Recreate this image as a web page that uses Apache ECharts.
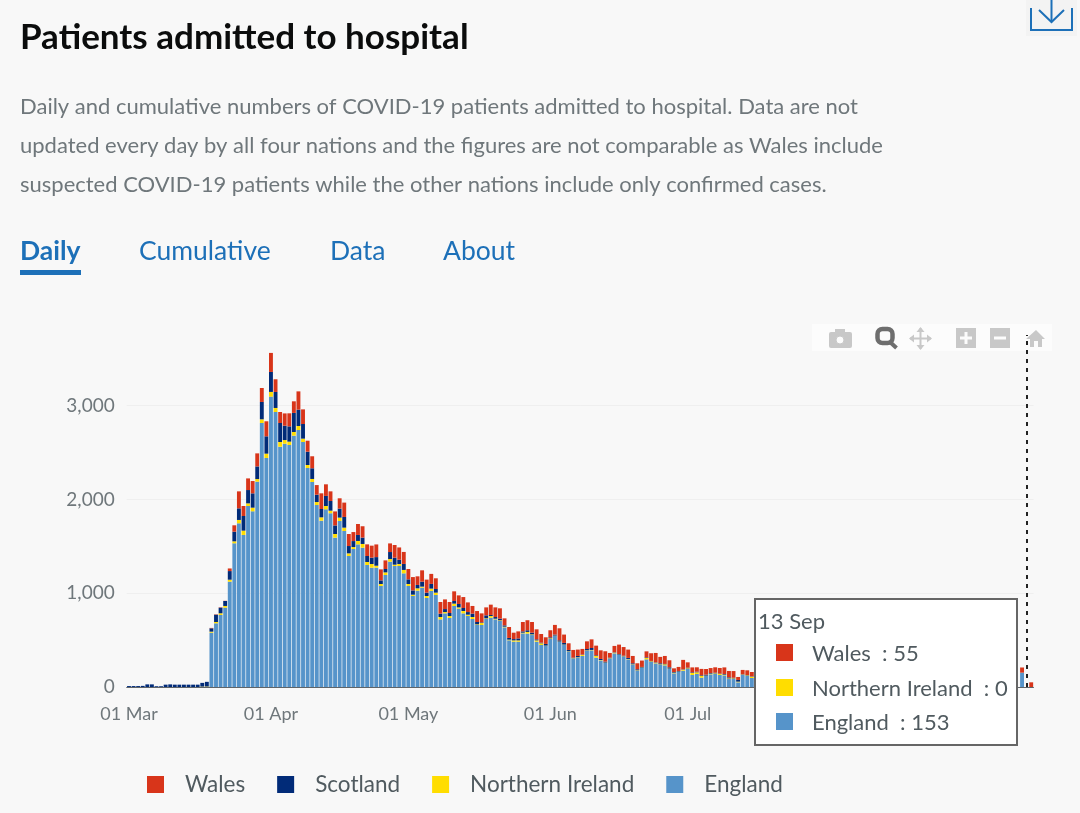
<!DOCTYPE html>
<html>
<head>
<meta charset="utf-8">
<style>html,body{margin:0;padding:0;background:#f8f8f8}#c{position:absolute;left:0;top:0;width:1080px;height:813px}</style>
<script src="https://cdn.jsdelivr.net/npm/echarts@6/dist/echarts.min.js"></script>
</head>
<body>
<div id="c"></div>
<script>
const FONT = 'Lato, "Noto Sans", sans-serif';
const titleText = 'Patients admitted to hospital';
const subtitleLines = [
  'Daily and cumulative numbers of COVID-19 patients admitted to hospital. Data are not',
  'updated every day by all four nations and the figures are not comparable as Wales include',
  'suspected COVID-19 patients while the other nations include only confirmed cases.'
];
const tabLabels = ['Daily', 'Cumulative', 'Data', 'About'];
const seriesNames = ['England', 'Northern Ireland', 'Scotland', 'Wales'];
const legendOrder = ['Wales', 'Scotland', 'Northern Ireland', 'England'];
const tickLabels = ['01 Mar', '01 Apr', '01 May', '01 Jun', '01 Jul'];
const months = [['Mar', 31], ['Apr', 30], ['May', 31], ['Jun', 30], ['Jul', 31], ['Aug', 31], ['Sep', 14]];
const tooltipDate = '13 Sep';
const tooltipNames = ['Wales', 'Northern Ireland', 'England'];
const tooltipValues = [55, 0, 153];

// 1 Mar .. 15 Jul; bars under the tooltip box cannot be read and stay empty (null).
const hidden = new Array(58).fill(null);
const england = [
  0,0,0,0,0,0,0,0,0,0,0,0,0,0,0,0,0,0,
  579,679,768,846,1123,1532,1745,1621,1930,1873,2189,2815,2442,3096,2932,2562,2594,2580,2680,2740,2612,2335,2186,1940,
  1773,1894,1852,1592,1770,1663,1397,1471,1521,1486,1301,1272,1272,1077,1194,1336,1290,1290,1212,
  1077,970,1027,1059,949,1024,981,721,785,736,864,835,785,757,725,661,661,725,739,721,704,636,498,483,483,572,569,554,483,448,437,
  512,544,480,448,377,302,313,331,387,391,313,284,256,302,359,341,323,295,238,174,203,295,267,252,238,231,192,146,160,174,
  192,128,139,100,117,135,139,128,124,85,85,50,128,117,96
].concat(hidden, [153, null, null]);
const northernIreland = [
  0,0,0,0,0,0,0,0,0,0,0,0,0,0,0,0,4,5,
  11,14,18,18,21,21,36,46,28,39,28,39,46,50,43,50,39,36,39,43,36,32,32,32,
  36,36,28,39,36,36,28,21,36,39,32,39,21,21,28,28,14,21,36,
  21,14,25,11,21,25,25,25,14,21,25,14,25,14,21,7,21,7,18,7,7,7,7,14,14,7,18,7,14,18,4,
  7,4,4,4,4,4,4,11,4,4,18,4,4,4,7,4,4,4,4,4,4,14,7,7,4,11,4,7,4,11,
  7,21,18,18,4,7,7,11,7,7,7,7,4,7,14
].concat(hidden, [0, null, null]);
const scotland = [
  10,10,10,12,28,28,8,8,25,28,25,25,25,25,25,25,40,50,
  36,78,60,53,92,103,124,156,142,153,135,185,185,213,171,203,153,163,203,174,156,142,114,78,
  89,107,103,92,96,114,78,64,64,68,64,68,92,39,36,75,75,46,64,
  50,46,36,53,36,50,39,36,32,32,28,36,32,28,36,25,7,32,11,18,18,14,18,14,21,14,18,18,11,7,18,
  11,11,14,18,14,7,14,4,14,21,7,11,11,7,4,7,7,11,11,11,7,7,4,4,11,4,14,7,7,4,
  7,7,7,7,11,7,7,4,7,11,7,18,4,4,4
].concat(hidden, [null, null, null]);
const wales = [
  0,0,0,0,0,0,0,0,0,0,0,0,0,0,0,0,0,0,
  4,4,4,2,28,68,181,107,124,131,139,149,160,203,135,117,131,139,124,195,156,117,128,103,
  167,124,103,149,110,153,128,96,117,121,124,128,135,117,92,92,135,131,128,
  110,142,92,121,139,107,114,124,103,117,103,92,117,103,82,117,96,85,110,103,110,75,117,68,75,100,107,114,107,92,71,
  75,103,128,89,71,82,68,60,82,92,103,92,110,50,68,100,92,89,78,64,68,64,82,100,68,85,75,39,43,100,
  57,53,46,68,60,53,57,60,71,68,71,32,46,50,46
].concat(hidden, [55, null, 50]);

const COLORS = {England:'#5694ca', 'Northern Ireland':'#ffdd00', Scotland:'#012b78', Wales:'#d8351a'};

const categories = [];
months.forEach(([m, n]) => { for (let d = 1; d <= n; d++) categories.push((d < 10 ? '0' : '') + d + ' ' + m); });
const valuesByName = {England: england, 'Northern Ireland': northernIreland, Scotland: scotland, Wales: wales};

function showTick(i) { return tickLabels.indexOf(categories[i]) >= 0; }

const TXT = '#505a5f', BLUE = '#1d70b8', ICON = '#c8c8c8', ICOND = '#6e6e6e';
const tabX = [20, 139, 330, 443];

const chart = echarts.init(document.getElementById('c'), null, {renderer: 'canvas', width: 1080, height: 813});
chart.setOption({
  animation: false,
  textStyle: {fontFamily: FONT},
  title: {
    left: 15, top: 15, text: titleText, itemGap: 32,
    textStyle: {fontFamily: FONT, fontSize: 35, fontWeight: 700, color: '#0b0c0c'},
    subtext: subtitleLines.join('\n'),
    subtextStyle: {fontFamily: FONT, fontSize: 22, lineHeight: 39, color: '#6f777b'}
  },
  grid: {left: 126.7, width: 906.8, top: 335, height: 352},
  legend: {
    data: legendOrder, left: 142, top: 768, icon: 'rect', itemWidth: 17, itemHeight: 17, itemGap: 32,
    selectedMode: false,
    textStyle: {fontFamily: FONT, fontSize: 22.5, color: TXT, padding: [0, 0, 0, 16]}
  },
  tooltip: {
    trigger: 'axis', triggerOn: 'none', alwaysShowContent: true, transitionDuration: 0,
    position: [754, 598], padding: 0, borderWidth: 0, backgroundColor: 'transparent',
    extraCssText: 'box-shadow:none;border-radius:0;',
    axisPointer: {type: 'line', label: {show: false}, lineStyle: {type: [4, 5], color: '#222', width: 2}},
    formatter: function () {
      let h = '<div style="box-sizing:border-box;width:264px;height:148px;background:#fff;border:2px solid #666;font:22px ' + FONT.replace(/"/g, "'") + ';color:#505a5f;position:relative;">';
      h += '<div style="position:absolute;left:2px;top:6px;line-height:30px;">' + tooltipDate + '</div>';
      tooltipNames.forEach((n, i) => {
        const top = 38 + i * 34.5;
        h += '<div style="position:absolute;left:20px;top:' + (top + 6) + 'px;width:17px;height:17px;background:' + COLORS[n] + '"></div>';
        h += '<div style="position:absolute;left:56px;top:' + top + 'px;line-height:30px;white-space:pre;">' + n + '  : ' + tooltipValues[i] + '</div>';
      });
      return h + '</div>';
    }
  },
  xAxis: {
    type: 'category', data: categories, boundaryGap: true,
    axisLine: {lineStyle: {color: '#5f6468', width: 1}},
    axisTick: {alignWithLabel: true, length: 8, lineStyle: {color: '#777', width: 2}, interval: showTick},
    axisLabel: {interval: showTick, fontSize: 18, color: '#6f777b', margin: 18, fontFamily: FONT,
      formatter: v => v},
    splitLine: {show: false}
  },
  yAxis: {
    type: 'value', min: 0, max: 3753, interval: 1000,
    axisLine: {show: false}, axisTick: {show: false},
    axisLabel: {fontSize: 19, color: '#6f777b', margin: 12, showMaxLabel: false, fontFamily: FONT},
    splitLine: {show: true, showMaxLine: false, lineStyle: {color: '#efefef', width: 1}}
  },
  series: seriesNames.map(n => ({
    name: n, type: 'bar', stack: 'total', data: valuesByName[n], barCategoryGap: '15%',
    itemStyle: {color: COLORS[n]}, emphasis: {disabled: true}
  })),
  graphic: [
    // tabs
    ...tabLabels.map((t, i) => ({type: 'text', left: tabX[i], top: 238, style: {
      text: t, fill: BLUE, fontFamily: FONT, fontSize: 26.5, fontWeight: i === 0 ? 700 : 400}})),
    {type: 'rect', shape: {x: 20, y: 270, width: 61, height: 5}, style: {fill: BLUE}},
    // download button
    {type: 'rect', shape: {x: 1026, y: 0, width: 51, height: 36}, style: {fill: '#f3f3f3'}},
    {type: 'polyline', shape: {points: [[1031, 8], [1031, 30], [1072, 30], [1072, 8]]}, style: {stroke: BLUE, lineWidth: 2, fill: null}},
    {type: 'polyline', shape: {points: [[1051.5, 0], [1051.5, 22]]}, style: {stroke: BLUE, lineWidth: 2, fill: null}},
    {type: 'polyline', shape: {points: [[1039, 10], [1051.5, 22], [1064, 10]]}, style: {stroke: BLUE, lineWidth: 2, fill: null}},
    // plot toolbar
    {type: 'rect', z: 1, shape: {x: 812, y: 324, width: 240, height: 27}, style: {fill: '#fcfcfc'}},
    {type: 'rect', z: 2, shape: {x: 829, y: 332, width: 23, height: 16, r: 2}, style: {fill: ICON}},
    {type: 'rect', z: 2, shape: {x: 835, y: 329, width: 10, height: 4}, style: {fill: ICON}},
    {type: 'circle', z: 3, shape: {cx: 840, cy: 340, r: 4}, style: {fill: '#fcfcfc', stroke: ICON, lineWidth: 1}},
    {type: 'rect', z: 2, shape: {x: 877.5, y: 329, width: 15, height: 14, r: 5}, style: {fill: 'none', stroke: ICOND, lineWidth: 4.5}},
    {type: 'polyline', z: 2, shape: {points: [[890, 342], [896.5, 348]]}, style: {stroke: ICOND, lineWidth: 4, fill: null}},
    {type: 'polyline', z: 2, shape: {points: [[910, 338.5], [931, 338.5]]}, style: {stroke: ICON, lineWidth: 2, fill: null}},
    {type: 'polyline', z: 2, shape: {points: [[920.5, 328], [920.5, 349]]}, style: {stroke: ICON, lineWidth: 2, fill: null}},
    {type: 'polygon', z: 2, shape: {points: [[909, 338.5], [914, 334.5], [914, 342.5]]}, style: {fill: ICON}},
    {type: 'polygon', z: 2, shape: {points: [[932, 338.5], [927, 334.5], [927, 342.5]]}, style: {fill: ICON}},
    {type: 'polygon', z: 2, shape: {points: [[920.5, 327], [916.5, 332], [924.5, 332]]}, style: {fill: ICON}},
    {type: 'polygon', z: 2, shape: {points: [[920.5, 350], [916.5, 345], [924.5, 345]]}, style: {fill: ICON}},
    {type: 'rect', z: 2, shape: {x: 956, y: 328, width: 20, height: 20}, style: {fill: ICON}},
    {type: 'rect', z: 3, shape: {x: 960, y: 336.5, width: 12, height: 3}, style: {fill: '#fcfcfc'}},
    {type: 'rect', z: 3, shape: {x: 964.5, y: 332, width: 3, height: 12}, style: {fill: '#fcfcfc'}},
    {type: 'rect', z: 2, shape: {x: 990, y: 328, width: 20, height: 20}, style: {fill: ICON}},
    {type: 'rect', z: 3, shape: {x: 994, y: 336.5, width: 12, height: 3}, style: {fill: '#fcfcfc'}},
    {type: 'polygon', z: 2, shape: {points: [[1026, 339], [1036, 330], [1045, 339], [1042, 339], [1042, 347], [1038, 347], [1038, 341], [1034, 341], [1034, 347], [1030, 347], [1030, 339]]}, style: {fill: ICON}}
  ]
});
const p = chart.convertToPixel({xAxisIndex: 0, yAxisIndex: 0}, [categories.length - 2, 1000]);
chart.dispatchAction({type: 'showTip', x: p[0], y: p[1]});
</script>
</body>
</html>
